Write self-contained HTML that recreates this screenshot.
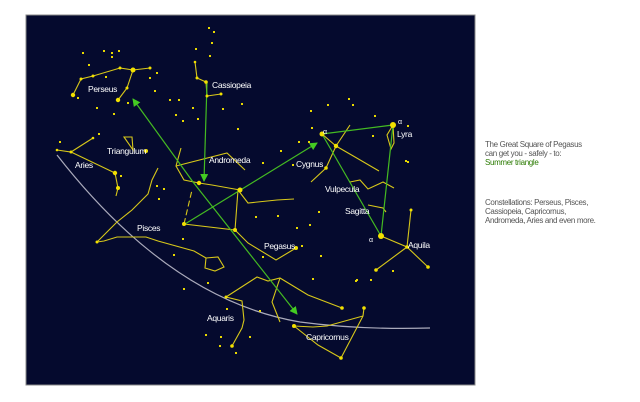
<!DOCTYPE html>
<html><head><style>
html,body{margin:0;padding:0;background:#fff;}
svg{display:block;}
text{font-family:"Liberation Sans",sans-serif;}
</style></head><body>
<svg width="640" height="402" viewBox="0 0 640 402" xmlns="http://www.w3.org/2000/svg">
<defs>
<marker id="ar" markerWidth="8" markerHeight="8" refX="7" refY="4" orient="auto" markerUnits="userSpaceOnUse">
<path d="M0,0 L8,4 L0,8 Z" fill="#44cc22"/>
</marker>
</defs>
<rect x="26" y="15" width="449" height="370" fill="#050a2e" stroke="#888" stroke-width="1"/>
<path d="M57,155 Q170,300 300,322 Q360,330 430,328" fill="none" stroke="#aaaabb" stroke-width="1.2"/>
<g fill="none" stroke="#d8c81a" stroke-width="1.1">
<polyline points="73,95 81,79 93,76 120,68 133,70 150,68"/>
<polyline points="133,70 127,88 118,100"/>
<polyline points="195,62 197,78 206,82 207,96 221,94"/>
<polyline points="181,148 176,166 184,180 199,183 212,185 240,190"/>
<polyline points="176,166 227,153 245,170"/>
<polyline points="57,150 71,152 93,138"/>
<polyline points="71,152 115,173 118,188 116,196"/>
<polygon points="124,137 132,137 133,150"/>
<polyline points="97,242 104,241 117,237 146,237 158,241 194,251 206,258"/>
<polygon points="206,258 218,257 224,267 215,271 205,268"/>
<polyline points="97,242 117,222 132,210 148,194 152,180 158,168"/>
<polyline points="184,224 235,230 238,190 248,203 277,200 294,199"/>
<polyline points="184,224 192,190" stroke-dasharray="6,3"/>
<polyline points="235,230 248,243 276,260 296,248"/>
<polyline points="226,297 257,277 268,281 280,278 308,295 342,308"/>
<polyline points="226,297 242,301 244,320 242,328 232,346"/>
<polyline points="280,278 272,302 280,322"/>
<polyline points="294,326 313,327 327,326 363,316 364,308"/>
<polyline points="363,316 341,358 318,345 294,326"/>
<polyline points="322,134 336,146 355,157 379,171"/>
<polyline points="350,125 336,146 326,168 311,182"/>
<polyline points="393,125 387,135 391,149 394,143 393,125"/>
<polyline points="350,182 360,180 368,189 383,182 394,188"/>
<polyline points="368,205 383,208 386,212"/>
<polyline points="381,236 407,247 428,267"/>
<polyline points="407,247 411,210"/>
<polyline points="407,247 376,270"/>
</g>
<g stroke="#44bb22" stroke-width="1.2" fill="none">
<line x1="193" y1="182" x2="133" y2="99" marker-end="url(#ar)"/>
<line x1="207" y1="83" x2="204" y2="181" marker-end="url(#ar)"/>
<line x1="193" y1="182" x2="297" y2="314" marker-end="url(#ar)"/>
<line x1="185" y1="224" x2="317" y2="143" marker-end="url(#ar)"/>
<polyline points="322,134 393,125 381,236 322,134"/>
</g>
<g fill="#f2e000">
<circle cx="73" cy="95" r="2.2"/><circle cx="81" cy="79" r="1.5"/><circle cx="93" cy="76" r="1.5"/><circle cx="120" cy="68" r="1.5"/><circle cx="133" cy="70" r="2.5"/><circle cx="150" cy="68" r="1.5"/><circle cx="127" cy="88" r="1.5"/><circle cx="118" cy="100" r="2.2"/>
<circle cx="195" cy="62" r="1.3"/><circle cx="197" cy="78" r="1.5"/><circle cx="206" cy="82" r="1.8"/><circle cx="207" cy="96" r="1.5"/><circle cx="221" cy="94" r="1.5"/>
<circle cx="199" cy="183" r="2.2"/><circle cx="240" cy="190" r="2.5"/><circle cx="184" cy="224" r="2"/><circle cx="235" cy="230" r="2"/>
<circle cx="71" cy="152" r="1.5"/><circle cx="115" cy="173" r="2.2"/><circle cx="118" cy="188" r="2"/><circle cx="93" cy="138" r="1.3"/><circle cx="57" cy="150" r="1.3"/>
<circle cx="146" cy="151" r="2"/>
<circle cx="322" cy="134" r="2.5"/><circle cx="393" cy="125" r="3"/><circle cx="381" cy="236" r="3"/><circle cx="336" cy="146" r="2.2"/><circle cx="326" cy="168" r="1.8"/>
<circle cx="407" cy="247" r="1.8"/><circle cx="428" cy="267" r="1.8"/><circle cx="376" cy="270" r="1.8"/><circle cx="411" cy="210" r="1.5"/>
<circle cx="294" cy="326" r="2"/><circle cx="364" cy="308" r="1.8"/><circle cx="341" cy="358" r="1.8"/><circle cx="232" cy="346" r="1.8"/><circle cx="342" cy="308" r="1.8"/><circle cx="296" cy="248" r="2"/>
<circle cx="97" cy="242" r="1.5"/><circle cx="226" cy="297" r="1.5"/>
</g>
<g fill="#e8d800">
<rect x="208" y="27" width="2" height="2"/><rect x="211" y="42" width="2" height="2"/><rect x="213" y="31" width="2" height="2"/><rect x="195" y="48" width="2" height="2"/><rect x="209" y="55" width="2" height="2"/>
<rect x="82" y="52" width="2" height="2"/><rect x="103" y="50" width="2" height="2"/><rect x="111" y="52" width="2" height="2"/><rect x="118" y="50" width="2" height="2"/><rect x="111" y="56" width="2" height="2"/><rect x="88" y="64" width="2" height="2"/>
<rect x="105" y="76" width="2" height="2"/><rect x="149" y="77" width="2" height="2"/><rect x="156" y="72" width="2" height="2"/><rect x="154" y="90" width="2" height="2"/><rect x="77" y="97" width="2" height="2"/><rect x="96" y="107" width="2" height="2"/><rect x="113" y="113" width="2" height="2"/><rect x="127" y="102" width="2" height="2"/>
<rect x="169" y="99" width="2" height="2"/><rect x="178" y="99" width="2" height="2"/><rect x="192" y="107" width="2" height="2"/><rect x="197" y="118" width="2" height="2"/><rect x="175" y="114" width="2" height="2"/><rect x="182" y="120" width="2" height="2"/><rect x="222" y="108" width="2" height="2"/><rect x="241" y="103" width="2" height="2"/><rect x="237" y="128" width="2" height="2"/>
<rect x="98" y="133" width="2" height="2"/><rect x="59" y="141" width="2" height="2"/><rect x="120" y="175" width="2" height="2"/><rect x="156" y="185" width="2" height="2"/><rect x="158" y="198" width="2" height="2"/><rect x="163" y="188" width="2" height="2"/>
<rect x="310" y="110" width="2" height="2"/><rect x="327" y="104" width="2" height="2"/><rect x="348" y="98" width="2" height="2"/><rect x="352" y="104" width="2" height="2"/><rect x="374" y="115" width="2" height="2"/><rect x="311" y="127" width="2" height="2"/><rect x="308" y="141" width="2" height="2"/><rect x="372" y="135" width="2" height="2"/><rect x="407" y="125" width="2" height="2"/><rect x="405" y="160" width="2" height="2"/><rect x="407" y="161" width="2" height="2"/>
<rect x="318" y="211" width="2" height="2"/><rect x="309" y="224" width="2" height="2"/><rect x="277" y="215" width="2" height="2"/><rect x="296" y="227" width="2" height="2"/><rect x="301" y="245" width="2" height="2"/><rect x="320" y="255" width="2" height="2"/><rect x="356" y="279" width="2" height="2"/><rect x="370" y="279" width="2" height="2"/><rect x="355" y="280" width="2" height="2"/><rect x="392" y="270" width="2" height="2"/>
<rect x="173" y="254" width="2" height="2"/><rect x="182" y="238" width="2" height="2"/><rect x="207" y="282" width="2" height="2"/><rect x="183" y="288" width="2" height="2"/><rect x="226" y="308" width="2" height="2"/><rect x="259" y="310" width="2" height="2"/><rect x="205" y="334" width="2" height="2"/><rect x="220" y="336" width="2" height="2"/><rect x="249" y="336" width="2" height="2"/><rect x="219" y="345" width="2" height="2"/><rect x="235" y="352" width="2" height="2"/><rect x="312" y="278" width="2" height="2"/>
<rect x="262" y="256" width="2" height="2"/><rect x="255" y="216" width="2" height="2"/><rect x="262" y="162" width="2" height="2"/><rect x="280" y="150" width="2" height="2"/><rect x="298" y="141" width="2" height="2"/><rect x="292" y="164" width="2" height="2"/>
</g>
<g fill="#fff" font-size="8.5" letter-spacing="-0.3">
<text x="88" y="92">Perseus</text>
<text x="212" y="88">Cassiopeia</text>
<text x="107" y="154">Triangulum</text>
<text x="75" y="168">Aries</text>
<text x="209" y="163">Andromeda</text>
<text x="296" y="167">Cygnus</text>
<text x="397" y="137">Lyra</text>
<text x="325" y="192">Vulpecula</text>
<text x="345" y="214">Sagitta</text>
<text x="408" y="248">Aquila</text>
<text x="137" y="231">Pisces</text>
<text x="264" y="249">Pegasus</text>
<text x="207" y="321">Aquaris</text>
<text x="306" y="340">Capricornus</text>
<text x="323" y="134" font-size="7">α</text>
<text x="398" y="124" font-size="7">α</text>
<text x="369" y="242" font-size="7">α</text>
</g>
<g font-size="8" fill="#555" letter-spacing="-0.35">
<text x="485" y="147">The Great Square of Pegasus</text>
<text x="485" y="156">can get you - safely - to:</text>
<text x="485" y="165" fill="#2a7a00">Summer triangle</text>
<text x="485" y="205">Constellations: Perseus, Pisces,</text>
<text x="485" y="214">Cassiopeia, Capricornus,</text>
<text x="485" y="223">Andromeda, Aries and even more.</text>
</g>
</svg>
</body></html>
